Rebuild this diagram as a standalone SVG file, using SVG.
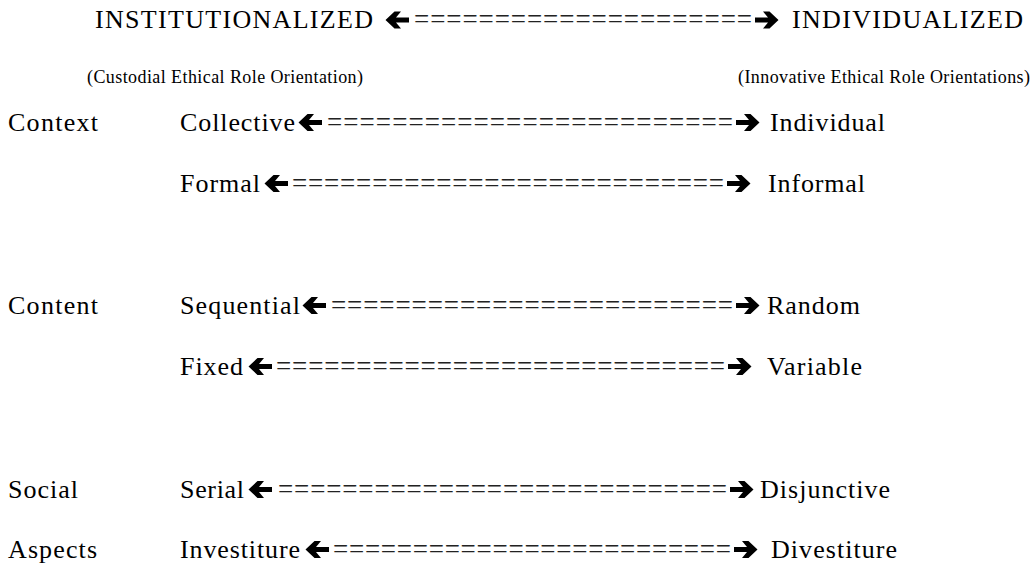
<svg xmlns="http://www.w3.org/2000/svg" width="1032" height="567" viewBox="0 0 1032 567">
<style>
text{font-family:"Liberation Serif","Times New Roman",serif;fill:#000}
.h{font-size:26px}
.s{font-size:18px}
.m{font-size:26px}
.eq{font-size:27px;fill:#222}
</style>
<defs>
<path id="ra" d="M0,-2.6 H13 L8,-8.5 H14.5 L23.5,0 L14.5,8.5 H8 L13,2.6 H0 Z" fill="#000"/>
<path id="la" d="M24,-2.6 H11 L16,-8.5 H9.5 L0.5,0 L9.5,8.5 H16 L11,2.6 H24 Z" fill="#000"/>
</defs>
<rect width="1032" height="567" fill="#fff"/>

<g id="header">
<text class="h" x="95" y="28" textLength="278" lengthAdjust="spacing">INSTITUTIONALIZED</text>
<text class="h" x="792" y="28" textLength="231" lengthAdjust="spacing">INDIVIDUALIZED</text>
</g>
<g id="subtitles">
<text class="s" x="87" y="83" textLength="276" lengthAdjust="spacing">(Custodial Ethical Role Orientation)</text>
<text class="s" x="738" y="83" textLength="292" lengthAdjust="spacing">(Innovative Ethical Role Orientations)</text>
</g>
<g id="categories">
<text class="m" x="8" y="131" textLength="90" lengthAdjust="spacing">Context</text>
<text class="m" x="8" y="314" textLength="90" lengthAdjust="spacing">Content</text>
<text class="m" x="8" y="498" textLength="70" lengthAdjust="spacing">Social</text>
<text class="m" x="8" y="558" textLength="89" lengthAdjust="spacing">Aspects</text>
</g>
<g id="row-collective">
<text class="m" x="180" y="131" textLength="115" lengthAdjust="spacing">Collective</text>
<text class="m" x="770" y="131" textLength="115" lengthAdjust="spacing">Individual</text>
</g>
<g id="row-formal">
<text class="m" x="180" y="192" textLength="80" lengthAdjust="spacing">Formal</text>
<text class="m" x="768" y="192" textLength="97" lengthAdjust="spacing">Informal</text>
</g>
<g id="row-sequential">
<text class="m" x="180" y="314" textLength="120" lengthAdjust="spacing">Sequential</text>
<text class="m" x="767" y="314" textLength="93" lengthAdjust="spacing">Random</text>
</g>
<g id="row-fixed">
<text class="m" x="180" y="375" textLength="63" lengthAdjust="spacing">Fixed</text>
<text class="m" x="767" y="375" textLength="95" lengthAdjust="spacing">Variable</text>
</g>
<g id="row-serial">
<text class="m" x="180" y="498" textLength="64" lengthAdjust="spacing">Serial</text>
<text class="m" x="760" y="498" textLength="130" lengthAdjust="spacing">Disjunctive</text>
</g>
<g id="row-investiture">
<text class="m" x="180" y="558" textLength="120" lengthAdjust="spacing">Investiture</text>
<text class="m" x="771" y="558" textLength="126" lengthAdjust="spacing">Divestiture</text>
</g>

<g id="connectors">
<use href="#la" x="385" y="20"/>
<text class="eq" x="414" y="28" textLength="338" lengthAdjust="spacing">=====================</text>
<use href="#ra" x="755" y="20"/>

<use href="#la" x="298" y="122.5"/>
<text class="eq" x="327" y="131" textLength="406" lengthAdjust="spacing">=========================</text>
<use href="#ra" x="736" y="122.5"/>

<use href="#la" x="264" y="183.5"/>
<text class="eq" x="292" y="192" textLength="432" lengthAdjust="spacing">===========================</text>
<use href="#ra" x="727" y="183.5"/>

<use href="#la" x="302" y="305.5"/>
<text class="eq" x="331" y="314" textLength="402" lengthAdjust="spacing">=========================</text>
<use href="#ra" x="736" y="305.5"/>

<use href="#la" x="248" y="366.5"/>
<text class="eq" x="276" y="375" textLength="449" lengthAdjust="spacing">============================</text>
<use href="#ra" x="728" y="366.5"/>

<use href="#la" x="248" y="489.5"/>
<text class="eq" x="278" y="498" textLength="449" lengthAdjust="spacing">============================</text>
<use href="#ra" x="730" y="489.5"/>

<use href="#la" x="305" y="549.5"/>
<text class="eq" x="333" y="558" textLength="398" lengthAdjust="spacing">=========================</text>
<use href="#ra" x="734" y="549.5"/>
</g>
</svg>
